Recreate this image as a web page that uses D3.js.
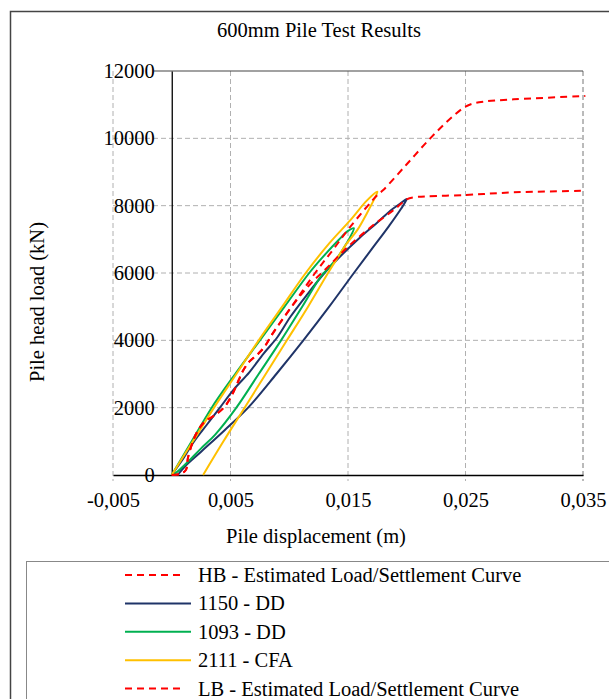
<html>
<head>
  <title>600mm Pile Test Results</title>
  <script src='https://d3js.org/d3.v7.min.js'></script>
  <style>
    body { margin: 0; background: #fff; }
  </style>
</head>
<body>
  <script>

// tick values
var xTicks = [-0.005, 0.005, 0.015, 0.025, 0.035];
var yTicks = [0, 2000, 4000, 6000, 8000, 10000, 12000];

// [displacement (m), load (kN)]
var hbCurve = [[0,0],[0.0007,30],[0.0012,150],[0.0014,545],[0.0021,1238],[0.0028,1584],[0.0037,1782],
  [0.0045,2028],[0.0052,2426],[0.0057,2822],[0.0061,3118],[0.0066,3366],[0.0074,3614],[0.0079,3812],
  [0.0086,4208],[0.0101,4950],[0.0122,6000],[0.0137,6680],[0.0152,7375],[0.0175,8316],[0.0180,8465],
  [0.0200,9230],[0.0220,10000],[0.0240,10680],[0.0250,10940],[0.0257,11040],[0.0265,11090],
  [0.0291,11158],[0.0352,11256]];

var lbCurve = [[0,0],[0.0007,30],[0.0012,150],[0.0014,545],[0.0021,1238],[0.0028,1584],[0.0037,1782],
  [0.0045,2028],[0.0052,2426],[0.0057,2822],[0.0061,3118],[0.0066,3366],[0.0074,3614],[0.0079,3812],
  [0.0086,4208],[0.0101,4950],[0.0116,5600],[0.0132,6150],[0.0150,6780],[0.0170,7380],[0.0190,7900],
  [0.0200,8190],[0.0206,8248],[0.0250,8316],[0.0291,8396],[0.0352,8443]];

var dd1150 = [[0.0005,0],[0.0011,247],[0.0025,692],[0.0045,1330],[0.0065,2000],[0.0089,3000],
  [0.0112,4000],[0.0134,5000],[0.0155,6000],[0.0170,6700],[0.0185,7400],[0.0195,7900],[0.0200,8200],
  [0.0194,8050],[0.0186,7850],[0.0175,7500],[0.0160,7050],[0.0145,6550],[0.0130,6000],[0.0115,5350],
  [0.0101,4700],[0.0090,4100],[0.0078,3600],[0.0066,3050],[0.0053,2550],[0.0041,2000],[0.0030,1500],
  [0.0019,1000],[0.0010,500],[0.0003,150],[0,0]];

var dd1093 = [[0,0],[0.0017,1000],[0.0034,2000],[0.0054,3000],[0.0075,4000],[0.0096,5000],[0.0117,6000],
  [0.0130,6530],[0.0142,6980],[0.0150,7250],[0.0155,7330],[0.0152,7080],[0.0147,6780],[0.0141,6460],
  [0.0134,6170],[0.0127,5900],[0.0111,5000],[0.0093,4000],[0.0074,3000],[0.0055,2000],[0.0037,1200],
  [0.0025,790],[0.0014,400],[0.0008,200],[0.0003,50],[0,0]];

var cfa2111 = [[0,0],[0.0018,1000],[0.0036,2000],[0.0055,3000],[0.0074,4000],[0.0094,5000],[0.0114,6000],
  [0.0134,6880],[0.0152,7570],[0.0166,8150],[0.0175,8415],[0.0172,8170],[0.0166,7770],[0.0158,7280],
  [0.0149,6880],[0.0141,6450],[0.0133,6000],[0.0116,5000],[0.0098,4000],[0.0080,3000],[0.0062,2000],
  [0.0044,1000],[0.00267,0]];

var series = [
  {name: 'HB - Estimated Load/Settlement Curve', data: hbCurve, color: '#ff0000', dash: '7,5'},
  {name: '1150 - DD', data: dd1150, color: '#1f3468', dash: null},
  {name: '1093 - DD', data: dd1093, color: '#00b050', dash: null},
  {name: '2111 - CFA', data: cfa2111, color: '#ffc000', dash: null},
  {name: 'LB - Estimated Load/Settlement Curve', data: lbCurve, color: '#ff0000', dash: '7,5'}
];

var font = "'Liberation Serif', 'Times New Roman', Times, serif";
var fs = '20.5px';

var width = 609,
    height = 699;

var svg = d3.select('body')
  .append('svg')
  .attr('width', width)
  .attr('height', height);

// outer chart frame
svg.append('rect')
  .attr('x', 10.5).attr('y', 11.5)
  .attr('width', 640).attr('height', 720)
  .attr('fill', 'none')
  .attr('stroke', '#444')
  .attr('stroke-width', 1.5);

svg.append('text')
  .attr('x', 319).attr('y', 37)
  .attr('text-anchor', 'middle')
  .text('600mm Pile Test Results');

var x = d3.scaleLinear().domain([-0.005, 0.035]).range([113, 583]);
var y = d3.scaleLinear().domain([0, 12000]).range([475, 71]);

// gridlines
var grid = svg.append('g');
grid.selectAll('.vg')
  .data(xTicks)
  .enter()
  .append('line')
  .attr('x1', function(d){ return x(d); })
  .attr('x2', function(d){ return x(d); })
  .attr('y1', y(12000))
  .attr('y2', y(0) + 6)
  .attr('stroke', function(d, i){ return i == xTicks.length - 1 ? '#777' : '#b0b0b0'; })
  .attr('stroke-dasharray', '5,3');

grid.selectAll('.hg')
  .data(yTicks.slice(1, -1))
  .enter()
  .append('line')
  .attr('x1', x(-0.005))
  .attr('x2', x(0.035))
  .attr('y1', function(d){ return y(d); })
  .attr('y2', function(d){ return y(d); })
  .attr('stroke', '#b0b0b0')
  .attr('stroke-dasharray', '5,3');

// top edge of plot
svg.append('line')
  .attr('x1', 154).attr('x2', x(0.035))
  .attr('y1', y(12000)).attr('y2', y(12000))
  .attr('stroke', '#444').attr('stroke-width', 1.2);

// axes through the origin
var yAxis = d3.axisLeft(y).tickValues(yTicks).tickSize(0).tickPadding(17)
  .tickFormat(d3.format('d'));
var gy = svg.append('g')
  .attr('transform', 'translate(' + x(0) + ',0)')
  .call(yAxis);
gy.select('.domain').attr('stroke', '#000').attr('stroke-width', 1.3);

var xAxis = d3.axisBottom(x).tickValues(xTicks).tickSize(0).tickPadding(17)
  .tickFormat(function(d){ return d3.format('.3f')(d).replace('.', ',').replace('−', '-'); });
var gx = svg.append('g')
  .attr('transform', 'translate(0,' + y(0) + ')')
  .call(xAxis);
gx.select('.domain').attr('stroke', '#000').attr('stroke-width', 1.3);

svg.append('text')
  .attr('x', 316).attr('y', 543)
  .attr('text-anchor', 'middle')
  .text('Pile displacement (m)');

svg.append('text')
  .attr('transform', 'translate(44,302) rotate(-90)')
  .attr('text-anchor', 'middle')
  .text('Pile head load (kN)');

// curves
var line = d3.line()
  .x(function(d){ return x(d[0]); })
  .y(function(d){ return y(d[1]); })
  .curve(d3.curveCatmullRom.alpha(0.5));

var order = [1, 2, 3, 0, 4];
svg.append('g')
  .selectAll('path')
  .data(order.map(function(i){ return series[i]; }))
  .enter()
  .append('path')
  .attr('d', function(d){ return line(d.data); })
  .attr('fill', 'none')
  .attr('stroke', function(d){ return d.color; })
  .attr('stroke-width', 2)
  .attr('stroke-dasharray', function(d){ return d.dash; });

// legend
svg.append('rect')
  .attr('x', 26.5).attr('y', 561.5)
  .attr('width', 620).attr('height', 200)
  .attr('fill', 'none')
  .attr('stroke', '#888')
  .attr('stroke-width', 1);

var leg = svg.append('g')
  .selectAll('g')
  .data(series)
  .enter()
  .append('g')
  .attr('transform', function(d, i){ return 'translate(0,' + (575 + i * 28.4) + ')'; });

leg.append('line')
  .attr('x1', 125).attr('x2', function(d){ return d.dash ? 185 : 191; })
  .attr('stroke', function(d){ return d.color; })
  .attr('stroke-width', 2)
  .attr('stroke-dasharray', function(d){ return d.dash; });

leg.append('text')
  .attr('x', 198).attr('y', 7)
  .text(function(d){ return d.name; });

// one serif face for every label
svg.selectAll('text')
  .style('font-family', font)
  .style('font-size', fs)
  .attr('fill', '#000');

  </script>
</body>
</html>
